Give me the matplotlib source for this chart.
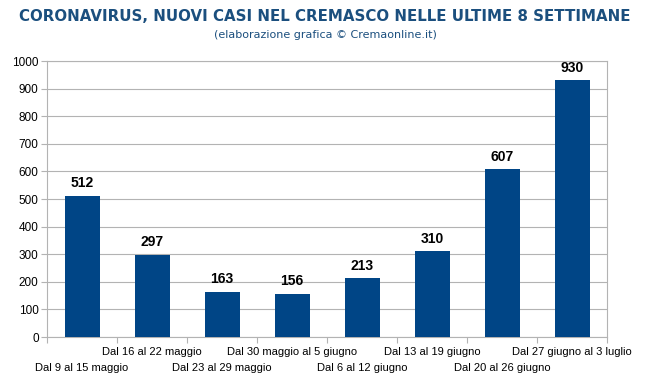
import matplotlib
matplotlib.use("Agg")
import matplotlib.pyplot as plt
import numpy as np

categories = ["Dal 9 al 15 maggio", "Dal 16 al 22 maggio", "Dal 23 al 29 maggio",
              "Dal 30 maggio al 5 giugno", "Dal 6 al 12 giugno", "Dal 13 al 19 giugno",
              "Dal 20 al 26 giugno", "Dal 27 giugno al 3 luglio"]
values = [512, 297, 163, 156, 213, 310, 607, 930]
yticks = [0, 100, 200, 300, 400, 500, 600, 700, 800, 900, 1000]

fig = plt.figure(figsize=(6.5, 3.86), dpi=100)
ax = fig.add_axes([47/650, 1-337/386, 560/650, 276/386])

x = np.arange(len(categories))
ax.bar(x, values, width=0.5, color="#004586", zorder=3)
ax.set_xlim(-0.5, len(categories)-0.5)
ax.set_ylim(0, 1000)
ax.set_yticks(yticks)
ax.set_yticklabels([str(v) for v in yticks], fontsize=8.5, family="Liberation Sans")
ax.tick_params(axis="y", length=4, color="#b3b3b3", pad=2)
ax.grid(axis="y", color="#b3b3b3", linewidth=0.8, zorder=0)
for s in ax.spines.values():
    s.set_color("#b3b3b3")

ax.set_xticks(np.arange(-0.5, len(categories)), minor=False)
ax.set_xticklabels([])
ax.tick_params(axis="x", length=4, color="#b3b3b3")

for i, (c, v) in enumerate(zip(categories, values)):
    yoff = -11 if i % 2 == 1 else -22
    ax.annotate(c, (i, 0), xytext=(0, yoff), textcoords="offset points",
                ha="center", va="center", fontsize=8,
                family="Liberation Sans", annotation_clip=False)
    ax.annotate(str(v), (i, v), xytext=(0, 4), textcoords="offset points",
                ha="center", va="bottom", fontsize=10, fontweight="bold",
                family="Liberation Sans")

fig.text(0.5, 0.956, "CORONAVIRUS, NUOVI CASI NEL CREMASCO NELLE ULTIME 8 SETTIMANE",
         ha="center", va="center", fontsize=10.8, fontweight="bold", color="#1b4f7e",
         family="DejaVu Sans")
fig.text(0.5, 0.909, "(elaborazione grafica © Cremaonline.it)", ha="center", va="center",
         fontsize=8, color="#1b4f7e", family="DejaVu Sans")

fig.savefig("out.png", dpi=100)
